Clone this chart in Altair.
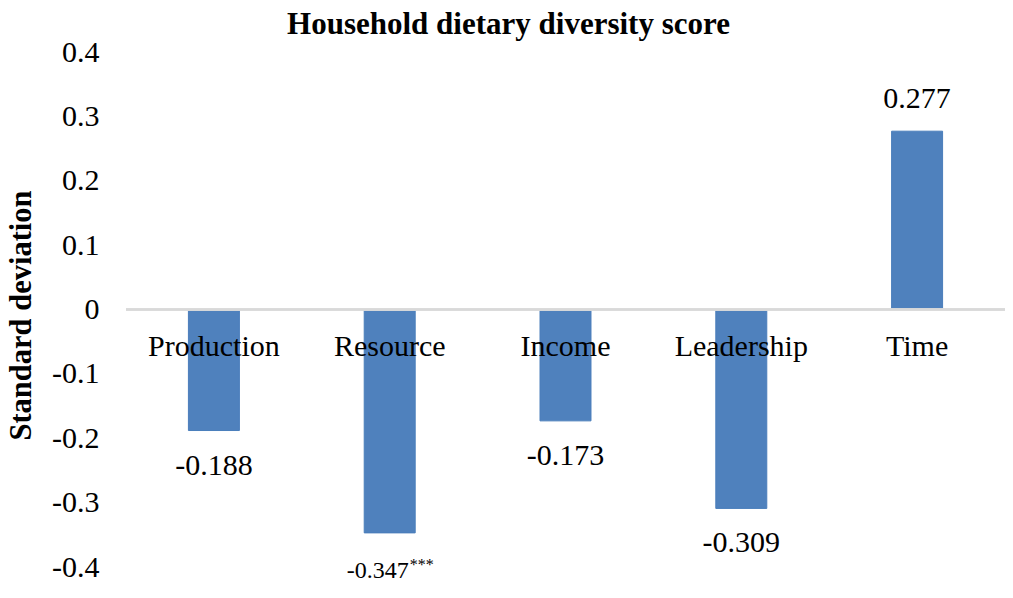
import altair as alt
import pandas as pd

categories = ["Production", "Resource", "Income", "Leadership", "Time"]
values = [-0.188, -0.347, -0.173, -0.309, 0.277]
value_labels = ["-0.188", "-0.347", "-0.173", "-0.309", "0.277"]
stars = ["", "***", "", "", ""]
y_ticks = [-0.4, -0.3, -0.2, -0.1, 0, 0.1, 0.2, 0.3, 0.4]

df = pd.DataFrame({
    "category": categories,
    "value": values,
    "label": value_labels,
    "stars": stars,
})

FONT = "Liberation Serif"

x_enc = alt.X(
    "category:N",
    sort=categories,
    axis=None,
    scale=alt.Scale(paddingInner=0.71, paddingOuter=0.355),
)
y_scale = alt.Scale(domain=[-0.4, 0.4], nice=False, zero=False)

base = alt.Chart(df)

bars = base.mark_bar(color="#4F81BD", stroke="#4A7EBB", strokeWidth=1).encode(
    x=x_enc,
    y=alt.Y(
        "value:Q",
        scale=y_scale,
        axis=alt.Axis(
            values=y_ticks,
            labelExpr="datum.value == 0 ? '0' : toString(round(datum.value * 10) / 10)",
            labelFont=FONT,
            labelFontSize=30,
            labelColor="#000000",
            labelPadding=27,
            domain=False,
            ticks=False,
            tickSize=0,
            grid=False,
            title="Standard deviation",
            titleFont=FONT,
            titleFontSize=30.5,
            titleFontWeight="bold",
            titleColor="#000000",
            titleX=-105,
            titleY=263,
            titleBaseline="middle",
            titleAlign="center",
        ),
    ),
    y2=alt.datum(0),
)

zero_line = base.mark_rule(color="#D9D9D9", strokeWidth=2).encode(
    y=alt.datum(0, scale=y_scale),
)

cat_labels = base.mark_text(
    font=FONT, fontSize=30, color="#000000", baseline="alphabetic", dy=46
).encode(
    x=x_enc,
    y=alt.datum(0),
    text="category:N",
)

neg_labels = base.transform_filter(
    "datum.value < 0 && datum.stars == ''"
).mark_text(
    font=FONT, fontSize=30, color="#000000", baseline="alphabetic", dy=44
).encode(
    x=x_enc,
    y="value:Q",
    text="label:N",
)

pos_labels = base.transform_filter("datum.value > 0").mark_text(
    font=FONT, fontSize=30, color="#000000", baseline="alphabetic", dy=-23
).encode(
    x=x_enc,
    y="value:Q",
    text="label:N",
)

star_num = base.transform_filter("datum.stars != ''").mark_text(
    font=FONT, fontSize=24, color="#000000", baseline="alphabetic",
    align="right", dx=19, dy=45
).encode(
    x=x_enc,
    y="value:Q",
    text="label:N",
)

star_sym = base.transform_filter("datum.stars != ''").mark_text(
    font=FONT, fontSize=16, color="#000000", baseline="alphabetic",
    align="left", dx=20, dy=37
).encode(
    x=x_enc,
    y="value:Q",
    text="stars:N",
)

chart = alt.layer(
    bars, zero_line, cat_labels, neg_labels, pos_labels, star_num, star_sym
).properties(
    width=879,
    height=515,
    background="#ffffff",
    title=alt.TitleParams(
        "Household dietary diversity score",
        font=FONT,
        fontSize=31,
        fontWeight="bold",
        color="#000000",
        anchor="middle",
        baseline="alphabetic",
        offset=0,
        dx=-57,
        dy=28,
    ),
    autosize=alt.AutoSizeParams(type="none"),
    padding={"left": 118, "top": 44, "right": 0, "bottom": 15},
).configure_view(stroke=None)

chart.save("out.html", embed_options={"renderer": "svg", "actions": False})
